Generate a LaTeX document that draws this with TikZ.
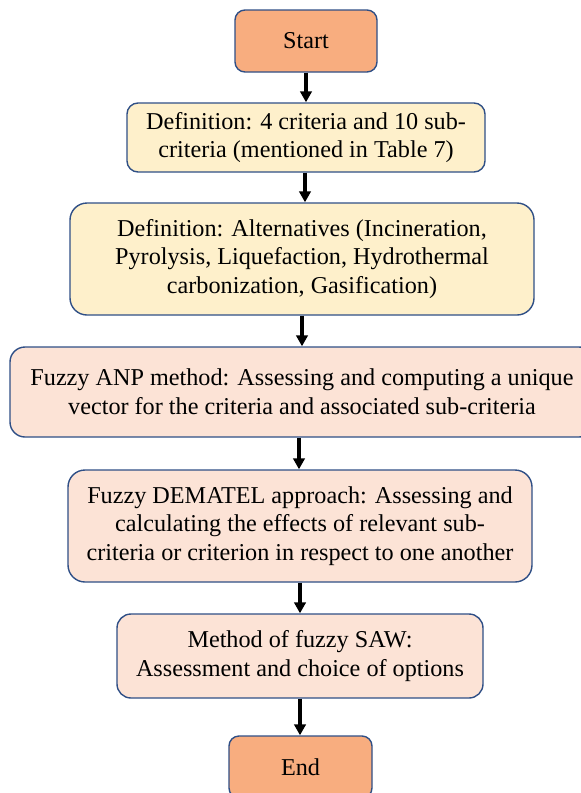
\documentclass[tikz,border=0pt]{standalone}
\usepackage{fontspec}
\setmainfont{Liberation Serif}
\usetikzlibrary{arrows.meta}
\definecolor{termfill}{HTML}{F8AD7F}
\definecolor{yelfill}{HTML}{FEF0CB}
\definecolor{pinkfill}{HTML}{FCE3D6}
\definecolor{edgeblue}{HTML}{2F4F86}
\tikzset{
  box/.style={draw=edgeblue, line width=1.4pt, align=center, inner sep=0pt,
    font=\fontsize{24.2}{28.6}\selectfont, text=black},
  termbox/.style={box, fill=termfill, minimum width=142pt, minimum height=62pt, rounded corners=10pt},
  yelbox/.style={box, fill=yelfill},
  pinkbox/.style={box, fill=pinkfill},
  flow/.style={line width=3.6pt, -{Triangle[width=11.5pt,length=11pt]}}
}
\begin{document}
\begin{tikzpicture}[x=1pt,y=1pt]
\useasboundingbox (0,0) rectangle (581,-793);
\node[termbox] (start) at (306,-41) {Start};
\node[yelbox, minimum width=358pt, minimum height=69pt, rounded corners=11pt] (def1) at (306,-137.5)
  {Definition: 4 criteria and 10 sub-\\criteria (mentioned in Table 7)};
\node[yelbox, minimum width=464pt, minimum height=112pt, rounded corners=17pt] (def2) at (302,-259)
  {Definition: Alternatives (Incineration,\\Pyrolysis, Liquefaction, Hydrothermal\\carbonization, Gasification)};
\node[pinkbox, minimum width=584pt, minimum height=90pt, rounded corners=15pt] (anp) at (302,-392)
  {Fuzzy ANP method: Assessing and computing a unique\\vector for the criteria and associated sub-criteria};
\node[pinkbox, minimum width=464pt, minimum height=112pt, rounded corners=17pt] (dem) at (300,-526)
  {Fuzzy DEMATEL approach: Assessing and\\calculating the effects of relevant sub-\\criteria or criterion in respect to one another};
\node[pinkbox, minimum width=366pt, minimum height=84pt, rounded corners=14pt] (saw) at (300,-656)
  {Method of fuzzy SAW:\\Assessment and choice of options};
\node[termbox, minimum width=143pt] (end) at (300.5,-767) {End};
\draw[flow] (start.south) -- (start.south |- def1.north);
\draw[flow] ([xshift=-1pt]def1.south) -- ([xshift=-1pt]def1.south |- def2.north);
\draw[flow] (def2.south) -- (def2.south |- anp.north);
\draw[flow] ([xshift=-3pt]anp.south) -- ([xshift=-3pt]anp.south |- dem.north);
\draw[flow] (dem.south) -- (dem.south |- saw.north);
\draw[flow] (saw.south) -- (saw.south |- end.north);
\end{tikzpicture}
\end{document}
